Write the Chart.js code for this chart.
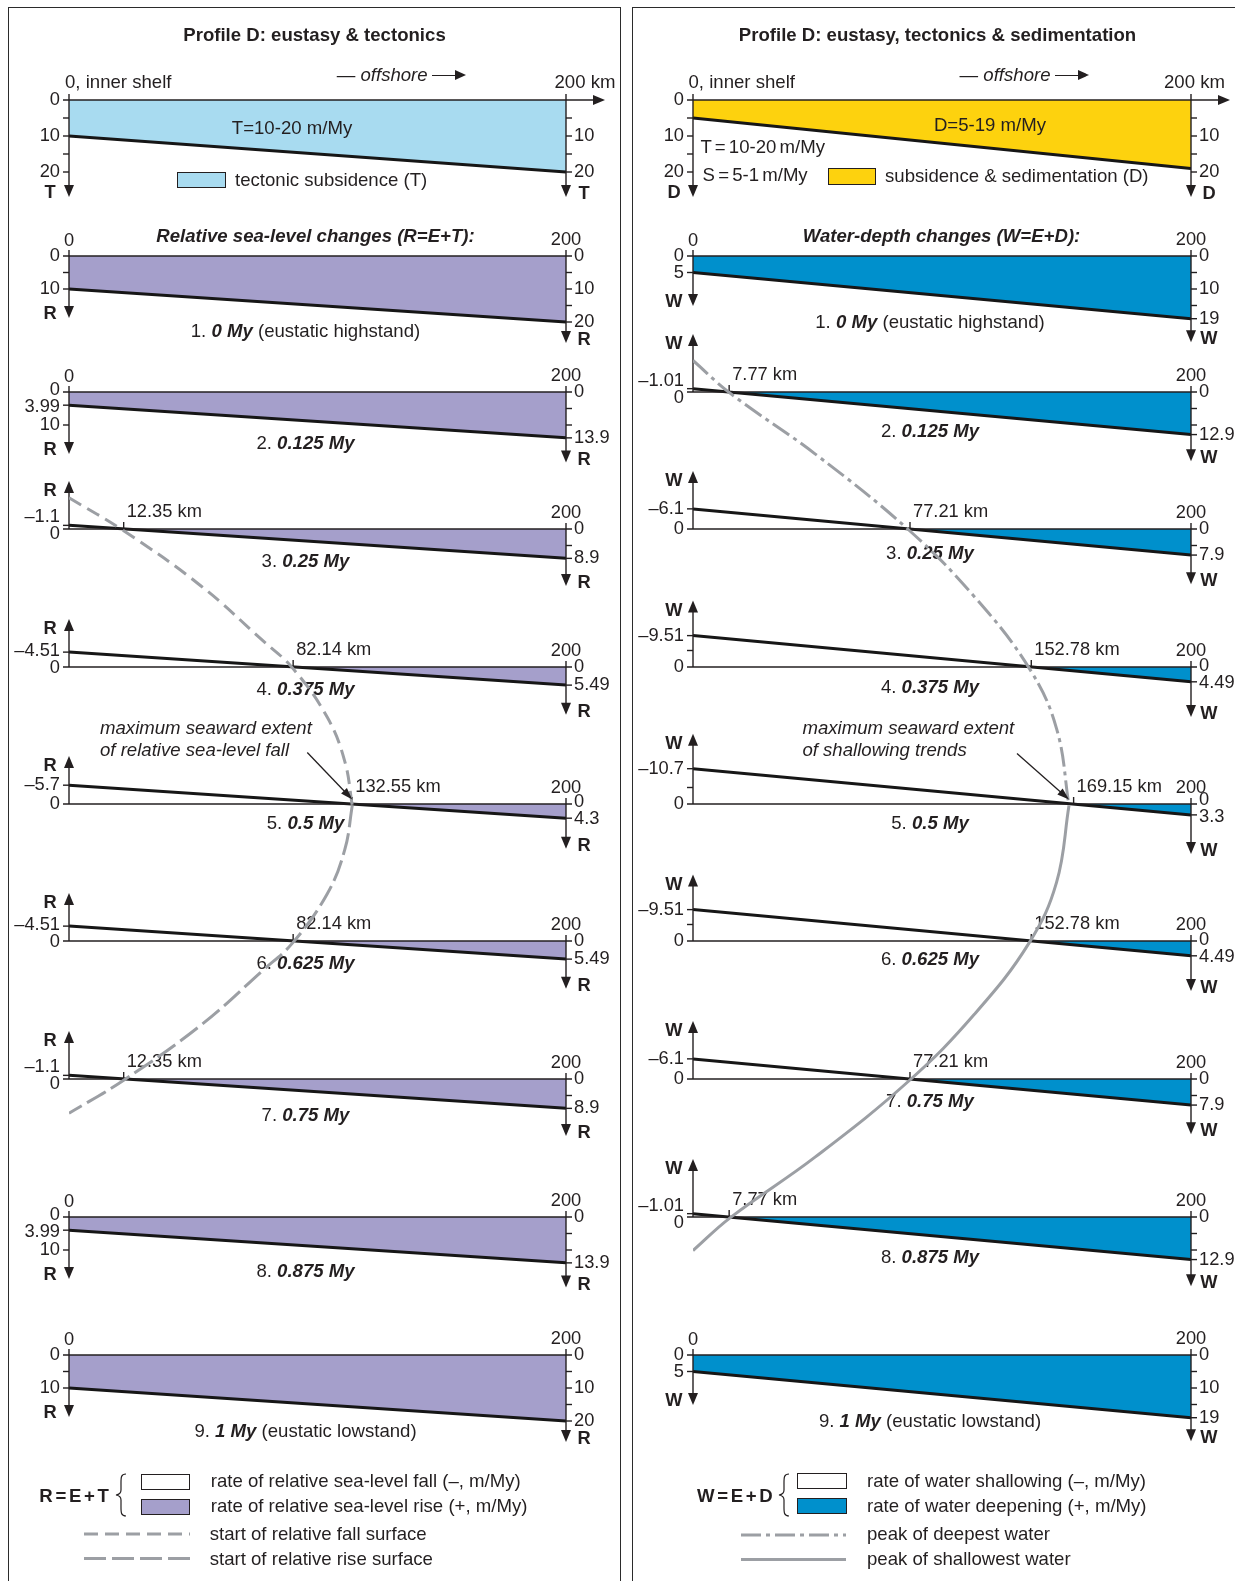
<!DOCTYPE html>
<html>
<head>
<meta charset="utf-8">
<script src="https://cdn.jsdelivr.net/npm/chart.js"></script>
<style>
  body { margin: 0; background: #fff; }
  #page { position: relative; width: 1235px; height: 1581px; overflow: hidden;
          font-family: "Liberation Sans", Arial, sans-serif; color: #231f20; }
  .panel { position: absolute; top: 7px; height: 1600px; border: 1.5px solid #2b2b2b;
           border-bottom: none; box-sizing: border-box; }
  canvas { position: absolute; }
  .t { position: absolute; white-space: nowrap; font-size: 18.6px; line-height: 22px; }
  .box { position: absolute; border: 1.3px solid #231f20; box-sizing: border-box; }
  .ln { display: inline-block; width: 23px; height: 0; border-top: 1.6px solid #231f20; vertical-align: middle; margin-left: 4px; }
  .tri { display: inline-block; width: 0; height: 0; vertical-align: middle; margin-top: -1px;
         border-top: 5.5px solid transparent; border-bottom: 5.5px solid transparent; border-left: 11px solid #231f20; }
</style>
</head>
<body>
<div id="page">
  <div class="panel" style="left:8px;width:613px"></div>
  <div class="panel" style="left:632px;width:620px"></div>
</div>
<script>
// ---------- data ----------
const kmRange = [0, 200];
const myTimes = [0, 0.125, 0.25, 0.375, 0.5, 0.625, 0.75, 0.875, 1];
const timeNotes = ['(eustatic highstand)', '', '', '', '', '', '', '', '(eustatic lowstand)'];

// header profiles, m/My at 0 km and 200 km
const tectonicT = [10, 20];
const subsSedD = [5, 19];
const headerLeftTicks = [0, 10, 20];
const headerRightTicks = [10, 20];

// relative sea-level change R = E + T (m/My)
const relAt0 = [10, 3.99, -1.1, -4.51, -5.7, -4.51, -1.1, 3.99, 10];
const relAt200 = [20, 13.9, 8.9, 5.49, 4.3, 5.49, 8.9, 13.9, 20];
const relCross = ['', '', '12.35 km', '82.14 km', '132.55 km', '82.14 km', '12.35 km', '', ''];
const relLeftTicks = [[0, 10], [0, 3.99, 10], [-1.1, 0], [-4.51, 0], [-5.7, 0], [-4.51, 0], [-1.1, 0], [0, 3.99, 10], [0, 10]];
const relRightTicks = [[0, 10, 20], [0, 13.9], [0, 8.9], [0, 5.49], [0, 4.3], [0, 5.49], [0, 8.9], [0, 13.9], [0, 10, 20]];

// water-depth change W = E + D (m/My)
const wdAt0 = [5, -1.01, -6.1, -9.51, -10.7, -9.51, -6.1, -1.01, 5];
const wdAt200 = [19, 12.9, 7.9, 4.49, 3.3, 4.49, 7.9, 12.9, 19];
const wdCross = ['', '7.77 km', '77.21 km', '152.78 km', '169.15 km', '152.78 km', '77.21 km', '7.77 km', ''];
const wdLeftTicks = [[0, 5], [-1.01, 0], [-6.1, 0], [-9.51, 0], [-10.7, 0], [-9.51, 0], [-6.1, 0], [-1.01, 0], [0, 5]];
const wdRightTicks = [[0, 10, 19], [0, 12.9], [0, 7.9], [0, 4.49], [0, 3.3], [0, 4.49], [0, 7.9], [0, 12.9], [0, 10, 19]];

// surfaces through the zero crossings: distance (km) vs time (My)
const fallSurfKm = [0, 22, 53, 78, 90, 104, 111, 114];
const fallSurfMy = [0.22, 0.25, 0.30, 0.35, 0.375, 0.42, 0.46, 0.5];
const riseSurfKm = [114, 111, 104, 90, 78, 53, 22, 0];
const riseSurfMy = [0.5, 0.54, 0.58, 0.625, 0.65, 0.70, 0.75, 0.78];
const deepestKm = [0, 15, 49, 87, 113, 135, 146, 151];
const deepestMy = [0.095, 0.125, 0.18, 0.25, 0.31, 0.375, 0.43, 0.5];
const shallowestKm = [151, 146, 135, 113, 87, 49, 15, 0];
const shallowestMy = [0.5, 0.57, 0.625, 0.69, 0.75, 0.82, 0.875, 0.905];

// ---------- layout ----------
const INK = '#231f20', GREY = '#9c9fa4';
const PURPLE = '#a59fcb', BLUE = '#0090cc', SKY = '#a8dbf0', YELLOW = '#fdd20e';
const FONT = '"Liberation Sans", Arial, sans-serif';
const K = 3.3, KH = 3.6;
const PW = 1235, PH = 1581;
const COLS = {
  L: {x0: 69, x200: 566, left: 10, width: 609},
  R: {x0: 693, x200: 1191, left: 634, width: 600}
};
const zeroY = [256, 392, 529, 667, 804, 941, 1079, 1217, 1355];
const capDyL = [76, 52, 33, 23, 20, 23, 37, 55, 77];
const capDyR = [67, 40, 25, 21, 20, 19, 23, 41, 67];
const page = document.getElementById('page');

function fmt(v) { return v < 0 ? '\u2013' + Math.abs(v) : String(v); }

function seg(ctx, x1, y1, x2, y2) {
  ctx.beginPath(); ctx.moveTo(x1, y1); ctx.lineTo(x2, y2); ctx.stroke();
}

function head(ctx, x, y, ang, len = 12, half = 5) {
  const c = Math.cos(ang), s = Math.sin(ang);
  ctx.beginPath();
  ctx.moveTo(x, y);
  ctx.lineTo(x - len * c + half * s, y - len * s - half * c);
  ctx.lineTo(x - len * c - half * s, y - len * s + half * c);
  ctx.closePath();
  ctx.fill();
}

function spread(items, gap = 17) {
  items.sort((a, b) => a.y - b.y);
  for (let i = 1; i < items.length; i++) {
    const d = items[i].y - items[i - 1].y;
    if (d < gap) { items[i - 1].y -= (gap - d) * 0.6; items[i].y += (gap - d) * 0.4; }
  }
  return items;
}

function minors(labels, lim) {
  const out = [];
  for (let m = 5; m <= Math.abs(lim) + 0.01; m += 5) {
    const v = lim < 0 ? -m : m;
    if (labels.every(t => Math.abs(t - v) > 1.6)) out.push(v);
  }
  return out;
}

// axes, ticks and labels of one small profile
function profileDecor(p) {
  return {
    id: 'profileDecor',
    afterDatasetsDraw(chart) {
      const ctx = chart.ctx, sx = chart.scales.x, sy = chart.scales.y;
      const xl = sx.getPixelForValue(kmRange[0]);
      const xr = sx.getPixelForValue(kmRange[1]);
      const y0 = sy.getPixelForValue(0);
      ctx.save();
      ctx.strokeStyle = INK; ctx.fillStyle = INK; ctx.lineWidth = 1.4;

      seg(ctx, xl - 6, y0, p.header ? xr + 30 : xr + 6, y0);
      if (p.header) head(ctx, xr + 39, y0, 0);

      const up = p.start < 0;
      const lTip = up ? y0 - p.upLen : y0 + p.leftLen;
      seg(ctx, xl, up ? y0 : y0 - 6, xl, lTip + (up ? 8 : -8));
      head(ctx, xl, lTip, up ? -Math.PI / 2 : Math.PI / 2);
      const rTip = y0 + p.rightLen;
      seg(ctx, xr, y0 - 6, xr, rTip - 8);
      head(ctx, xr, rTip, Math.PI / 2);

      const lMin = minors(p.leftTicks, p.minorMax ?? p.start);
      const rMin = minors(p.rightTicks, p.minorMax ?? p.end);
      p.leftTicks.concat(lMin).forEach(v => {
        if (v !== 0) { const y = sy.getPixelForValue(v); seg(ctx, xl - 6, y, xl, y); }
      });
      p.rightTicks.concat(rMin).forEach(v => {
        if (v !== 0) { const y = sy.getPixelForValue(v); seg(ctx, xr, y, xr + 6, y); }
      });

      ctx.font = '18.3px ' + FONT;
      ctx.textBaseline = 'middle';
      ctx.textAlign = 'right';
      spread(p.leftTicks.map(v => ({v, y: sy.getPixelForValue(v)})))
        .forEach(o => ctx.fillText(fmt(o.v), xl - 9, o.y));
      ctx.textAlign = 'left';
      spread(p.rightTicks.map(v => ({v, y: sy.getPixelForValue(v)})))
        .forEach(o => ctx.fillText(fmt(o.v), xr + 8, o.y));

      if (!p.header) {
        ctx.textAlign = 'center';
        if (!up) ctx.fillText(String(kmRange[0]), xl, y0 - 15);
        ctx.fillText(String(kmRange[1]), xr, y0 - 16);
      }

      if (p.cross) {
        const xc = sx.getPixelForValue(kmRange[1] * -p.start / (p.end - p.start));
        seg(ctx, xc, y0 - 7, xc, y0);
        ctx.textAlign = 'left';
        ctx.fillText(p.cross, xc + 3, y0 - 17);
      }

      if (p.caption) {
        const w = p.caption.map(([t, f]) => { ctx.font = f; return ctx.measureText(t).width; });
        let x = (xl + xr) / 2 - 12 - w.reduce((a, b) => a + b, 0) / 2;
        ctx.textAlign = 'left';
        p.caption.forEach(([t, f], i) => { ctx.font = f; ctx.fillText(t, x, y0 + p.capDy); x += w[i]; });
      }

      ctx.font = 'bold 18.3px ' + FONT;
      ctx.textAlign = 'center';
      ctx.fillText(p.letter, xl - 19, up ? lTip + 10 : lTip - 4);
      ctx.fillText(p.letter, xr + 18, rTip - 3);
      ctx.restore();
    }
  };
}

function makeProfile(col, zero, p) {
  const cv = document.createElement('canvas');
  const above = p.header ? 60 : 80, below = p.header ? 110 : 100;
  cv.width = col.width; cv.height = above + below;
  cv.style.left = col.left + 'px'; cv.style.top = (zero - above) + 'px';
  page.appendChild(cv);
  new Chart(cv, {
    type: 'line',
    data: {datasets: [{
      data: [{x: kmRange[0], y: p.start}, {x: kmRange[1], y: p.end}],
      borderColor: '#161616', borderWidth: 3, pointRadius: 0, tension: 0,
      fill: {target: 'origin', above: 'rgba(0,0,0,0)', below: p.color}
    }]},
    options: {
      responsive: false, animation: false, events: [],
      layout: {autoPadding: false, padding: {left: col.x0 - col.left, right: col.left + col.width - col.x200, top: 0, bottom: 0}},
      scales: {
        x: {type: 'linear', display: false, min: kmRange[0], max: kmRange[1]},
        y: {type: 'linear', display: false, reverse: true, min: -above / p.k, max: below / p.k}
      },
      plugins: {legend: {display: false}, tooltip: {enabled: false}}
    },
    plugins: [profileDecor(p)]
  });
}

// annotation arrow and legend samples of the surfaces
function surfaceDecor(arrowOff, samples) {
  return {
    id: 'surfaceDecor',
    afterDatasetsDraw(chart) {
      const ctx = chart.ctx;
      const pts = chart.getDatasetMeta(0).data;
      const tip = pts[pts.length - 1];
      const tx = tip.x, ty = tip.y - 6;
      const ax = tx + arrowOff[0], ay = ty + arrowOff[1];
      const ang = Math.atan2(ty - ay, tx - ax);
      ctx.save();
      ctx.strokeStyle = INK; ctx.fillStyle = INK; ctx.lineWidth = 1.3;
      seg(ctx, ax, ay, tx - 9 * Math.cos(ang), ty - 9 * Math.sin(ang));
      head(ctx, tx, ty, ang, 12, 4);
      chart.data.datasets.forEach((ds, i) => {
        ctx.strokeStyle = GREY; ctx.lineWidth = 3; ctx.setLineDash(ds.borderDash || []);
        seg(ctx, samples[i][0], samples[i][2], samples[i][1], samples[i][2]);
      });
      ctx.restore();
    }
  };
}

function makeSurfaces(col, sets, arrowOff, samples) {
  const cv = document.createElement('canvas');
  cv.width = PW; cv.height = PH;
  cv.style.left = '0px'; cv.style.top = '0px';
  page.appendChild(cv);
  new Chart(cv, {
    type: 'line',
    data: {datasets: sets.map(s => ({
      data: s.km.map((k, i) => ({x: k, y: s.my[i]})),
      borderColor: GREY, borderWidth: 3, borderDash: s.dash, borderCapStyle: 'butt',
      pointRadius: 0, tension: 0.4, fill: false
    }))},
    options: {
      responsive: false, animation: false, events: [],
      layout: {autoPadding: false, padding: {left: col.x0, right: PW - col.x200, top: zeroY[0], bottom: PH - zeroY[8]}},
      scales: {
        x: {type: 'linear', display: false, min: kmRange[0], max: kmRange[1]},
        y: {type: 'linear', display: false, reverse: true, min: myTimes[0], max: myTimes[8]}
      },
      plugins: {legend: {display: false}, tooltip: {enabled: false}}
    },
    plugins: [surfaceDecor(arrowOff, samples)]
  });
}

// ---------- build ----------
const REG = '18.6px ' + FONT, BI = 'italic bold 18.6px ' + FONT;
const caption = i => [[`${i + 1}. `, REG], [`${myTimes[i]} My`, BI], [timeNotes[i] ? ' ' + timeNotes[i] : '', REG]];

makeProfile(COLS.L, 100, {header: true, k: KH, start: tectonicT[0], end: tectonicT[1],
  leftTicks: headerLeftTicks, rightTicks: headerRightTicks, minorMax: 20,
  letter: 'T', color: SKY, leftLen: 97, rightLen: 97});
makeProfile(COLS.R, 100, {header: true, k: KH, start: subsSedD[0], end: subsSedD[1],
  leftTicks: headerLeftTicks, rightTicks: headerRightTicks, minorMax: 20,
  letter: 'D', color: YELLOW, leftLen: 97, rightLen: 97});

myTimes.forEach((t, i) => {
  makeProfile(COLS.L, zeroY[i], {k: K, start: relAt0[i], end: relAt200[i],
    leftTicks: relLeftTicks[i], rightTicks: relRightTicks[i], letter: 'R', color: PURPLE,
    cross: relCross[i], caption: caption(i), capDy: capDyL[i], leftLen: 62,
    upLen: Math.max(48, -relAt0[i] * K + 28), rightLen: Math.max(43, 0.82 * relAt200[i] * K + 33)});
  makeProfile(COLS.R, zeroY[i], {k: K, start: wdAt0[i], end: wdAt200[i],
    leftTicks: wdLeftTicks[i], rightTicks: wdRightTicks[i], letter: 'W', color: BLUE,
    cross: wdCross[i], caption: caption(i), capDy: capDyR[i], leftLen: 50,
    upLen: Math.max(58, -wdAt0[i] * K + 35), rightLen: Math.max(50, 0.85 * wdAt200[i] * K + 33)});
});

makeSurfaces(COLS.L, [
  {km: fallSurfKm, my: fallSurfMy, dash: [14, 7]},
  {km: riseSurfKm, my: riseSurfMy, dash: [22, 6]}
], [-45, -47], [[84, 190, 1534], [84, 190, 1558.5]]);
makeSurfaces(COLS.R, [
  {km: deepestKm, my: deepestMy, dash: [20, 5, 4, 5]},
  {km: shallowestKm, my: shallowestMy, dash: []}
], [-52, -46], [[741, 846, 1535], [741, 846, 1559.5]]);

// ---------- text ----------
function txt(html, x, y, align = 'left', css = '') {
  const d = document.createElement('div');
  d.className = 't';
  d.innerHTML = html;
  d.style.cssText = `left:${x}px;top:${y - 11}px;` + (align === 'center' ? 'transform:translateX(-50%);' : '') + css;
  page.appendChild(d);
}
function box(x, y, w, h, bg) {
  const d = document.createElement('div');
  d.className = 'box';
  d.style.cssText = `left:${x}px;top:${y}px;width:${w}px;height:${h}px;background:${bg}`;
  page.appendChild(d);
}
function brace(x, y) {
  const d = document.createElement('div');
  d.style.cssText = `position:absolute;left:${x}px;top:${y}px`;
  d.innerHTML = '<svg width="14" height="44"><path d="M12,1 C6.5,1 7,5 7,12 L7,17 C7,20 5,21.5 2,22 C5,22.5 7,24 7,27 L7,32 C7,39 6.5,43 12,43" fill="none" stroke="#231f20" stroke-width="1.2"/></svg>';
  page.appendChild(d);
}
const ARROW = '<span class="ln"></span><span class="tri"></span>';

txt('<b>Profile D: eustasy &amp; tectonics</b>', 314.5, 34.5, 'center');
txt('0, inner shelf', 65, 81.7);
txt('— <i>offshore</i>' + ARROW, 336.7, 74.6);
txt('200 km', 554.5, 81.7);
txt('T=10-20 m/My', 292, 128, 'center');
box(177.4, 172, 49, 16, SKY);
txt('tectonic subsidence (T)', 235, 179.5);
txt('<b><i>Relative sea-level changes (R=E+T):</i></b>', 315.5, 236, 'center');
txt('<i>maximum seaward extent</i>', 100, 728);
txt('<i>of relative sea-level fall</i>', 100, 750);
txt('<b>R = E + T</b>', 39.3, 1496, 'left', 'word-spacing:-2.5px');
brace(114, 1473);
box(141, 1474, 49.4, 15.5, '#fff');
box(141, 1499, 49.4, 15.5, PURPLE);
txt('rate of relative sea-level fall (–, m/My)', 210.7, 1481);
txt('rate of relative sea-level rise (+, m/My)', 210.7, 1506);
txt('start of relative fall surface', 209.7, 1533.5);
txt('start of relative rise surface', 209.7, 1558.5);

txt('<b>Profile D: eustasy, tectonics &amp; sedimentation</b>', 937.5, 34.5, 'center');
txt('0, inner shelf', 688.5, 81.7);
txt('— <i>offshore</i>' + ARROW, 959.6, 74.6);
txt('200 km', 1164, 81.7);
txt('D=5-19 m/My', 990, 125, 'center');
txt('T = 10-20 m/My', 700.6, 147.2, 'left', 'word-spacing:-2px');
txt('S = 5-1 m/My', 702.6, 175.4, 'left', 'word-spacing:-2px');
box(827.6, 168.3, 48.4, 17, YELLOW);
txt('subsidence &amp; sedimentation (D)', 885, 176.4);
txt('<b><i>Water-depth changes (W=E+D):</i></b>', 941.5, 236, 'center');
txt('<i>maximum seaward extent</i>', 802.4, 728);
txt('<i>of shallowing trends</i>', 802.4, 750);
txt('<b>W = E + D</b>', 697, 1496, 'left', 'word-spacing:-2.5px');
brace(777, 1473);
box(797.4, 1473, 49.4, 15.5, '#fff');
box(797.4, 1498, 49.4, 15.5, BLUE);
txt('rate of water shallowing (–, m/My)', 867, 1481);
txt('rate of water deepening (+, m/My)', 867, 1506);
txt('peak of deepest water', 867, 1534);
txt('peak of shallowest water', 867, 1558.5);
</script>
</body>
</html>
